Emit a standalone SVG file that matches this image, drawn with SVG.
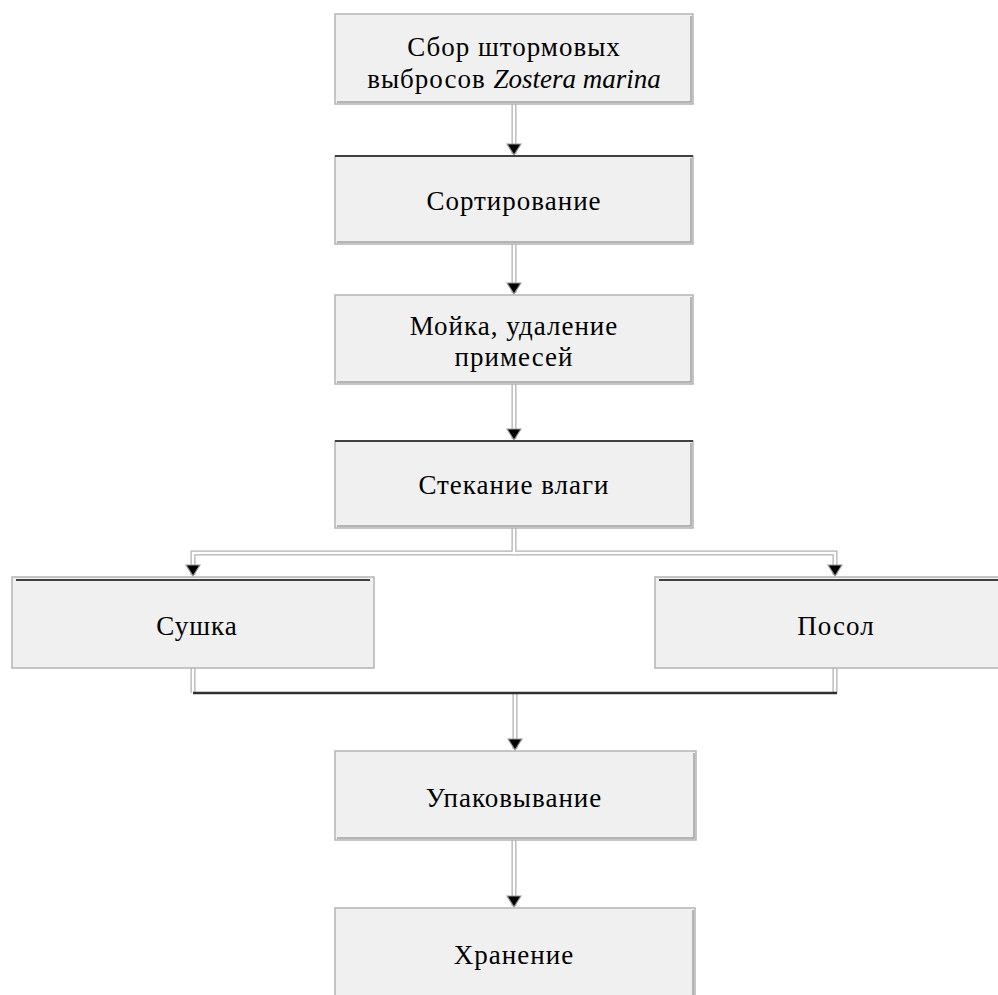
<svg xmlns="http://www.w3.org/2000/svg" width="998" height="995" viewBox="0 0 998 995">
<style>
.box{fill:#f0f0f0;stroke:#b4b4b4;stroke-width:1.5}
.edge{stroke:#404040;stroke-width:2}
.sh{fill:none;stroke:#a0a0a0;stroke-width:1.5}
.t{font-family:"Liberation Serif","Times New Roman",serif;font-size:27px;letter-spacing:1px;fill:#000;text-anchor:middle}
.co{fill:none;stroke:#b0b0b0;stroke-width:5}
.ci{fill:none;stroke:#fff;stroke-width:2.5}
</style>
<defs>
<marker id="ah" markerWidth="13" markerHeight="16" refX="12" refY="8" orient="auto" markerUnits="userSpaceOnUse" viewBox="0 0 13 16">
<path d="M1,1 L12,8 L1,15 Z" fill="#000" stroke="#999" stroke-width="1.2"/>
</marker>
</defs>
<g id="connectors">
<path class="co" d="M514,104 V154"/>
<path class="co" d="M514,244 V293"/>
<path class="co" d="M514,384 V439"/>
<path class="co" d="M514,528 V553 H193 V575 M514,553 H835 V575"/>
<path class="co" d="M193,668 V693 M835,668 V693"/>
<path class="co" d="M515,693 V749"/>
<path class="co" d="M514,840 V906"/>
<path class="ci" d="M514,104 V155" marker-end="url(#ah)"/>
<path class="ci" d="M514,244 V294" marker-end="url(#ah)"/>
<path class="ci" d="M514,384 V440" marker-end="url(#ah)"/>
<path class="ci" d="M514,528 V553 H193 V576" marker-end="url(#ah)"/>
<path class="ci" d="M514,553 H835 V576" marker-end="url(#ah)"/>
<path class="ci" d="M193,668 V693 M835,668 V693"/>
<path class="ci" d="M515,693 V750" marker-end="url(#ah)"/>
<path class="ci" d="M514,840 V907" marker-end="url(#ah)"/>
<path d="M193,693 H837" stroke="#303030" stroke-width="2.5"/>
</g>
<g id="n1">
<rect class="box" x="335" y="14" width="358" height="90"/>
<path class="sh" d="M691,16 V102 H337"/>
<text class="t" x="514" y="56">Сбор штормовых</text>
<text class="t" x="514" y="88">выбросов <tspan font-style="italic" letter-spacing="0">Zostera marina</tspan></text>
</g>
<g id="n2">
<rect class="box" x="335" y="156" width="358" height="88"/>
<path class="sh" d="M691,158 V242 H337"/>
<line class="edge" x1="335" y1="156" x2="693" y2="156"/>
<text class="t" x="514" y="210">Сортирование</text>
</g>
<g id="n3">
<rect class="box" x="335" y="295" width="358" height="89"/>
<path class="sh" d="M691,297 V382 H337"/>
<text class="t" x="514" y="335">Мойка, удаление</text>
<text class="t" x="514" y="366">примесей</text>
</g>
<g id="n4">
<rect class="box" x="335" y="441" width="358" height="87"/>
<path class="sh" d="M691,443 V526 H337"/>
<line class="edge" x1="335" y1="441" x2="693" y2="441"/>
<text class="t" x="514" y="494">Стекание влаги</text>
</g>
<g id="n5">
<rect class="box" x="12" y="577" width="362" height="91"/>
<line class="edge" x1="16" y1="580" x2="370" y2="580"/>
<text class="t" x="197" y="635">Сушка</text>
</g>
<g id="n6">
<rect class="box" x="655" y="577" width="345" height="91"/>
<line class="edge" x1="659" y1="580" x2="998" y2="580"/>
<text class="t" x="836" y="635">Посол</text>
</g>
<g id="n7">
<rect class="box" x="335" y="751" width="361" height="89"/>
<path class="sh" d="M694,753 V838 H337"/>
<text class="t" x="514" y="807">Упаковывание</text>
</g>
<g id="n8">
<rect class="box" x="335" y="908" width="360" height="92"/>
<path class="sh" d="M693,910 V995"/>
<text class="t" x="514" y="964">Хранение</text>
</g>
</svg>
